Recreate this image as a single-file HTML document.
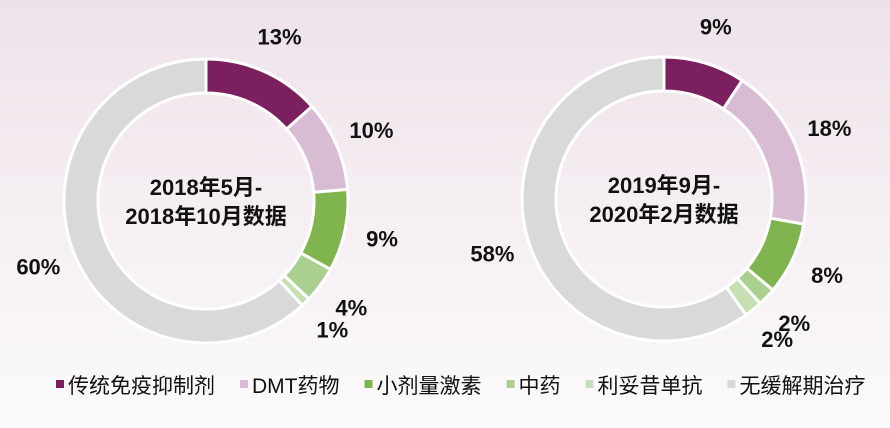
<!DOCTYPE html>
<html><head><meta charset="utf-8">
<style>
html,body{margin:0;padding:0;}
body{width:890px;height:428px;overflow:hidden;background:linear-gradient(180deg,#eee2ea 0%,#f6f0f4 55%,#fbfafb 100%);font-family:"Liberation Sans","Noto Sans CJK SC",sans-serif;}
svg{display:block}
</style></head><body>
<svg id="chart" width="890" height="428" xmlns="http://www.w3.org/2000/svg"></svg>
<script>
const categories = ["传统免疫抑制剂","DMT药物","小剂量激素","中药","利妥昔单抗","无缓解期治疗"];
const series1 = [13,10,9,4,1,60];
const series2 = [9,18,8,2,2,58];
const titles1 = ["2018年5月-","2018年10月数据"];
const titles2 = ["2019年9月-","2020年2月数据"];
const colors = ["#7b1f5e","#d8bcd3","#80b44e","#a9d08e","#c6e0b4","#d9d9d9"];
const NS="http://www.w3.org/2000/svg";
const svg=document.getElementById('chart');
function mk(tag,attrs){const e=document.createElementNS(NS,tag);for(const k in attrs)e.setAttribute(k,attrs[k]);return e;}
function pt(cx,cy,r,a){return [cx+r*Math.sin(a),cy-r*Math.cos(a)];}
function donut(vals,titles,cx,cy,ro,ri,idx){
  const g=mk('g',{});
  
  
  svg.appendChild(g);
  const total=vals.reduce((a,b)=>a+b,0);
  let a0=0;
  vals.forEach((v,i)=>{
    const a1=a0+v/total*2*Math.PI;
    const large=(a1-a0)>Math.PI?1:0;
    const [x0,y0]=pt(cx,cy,ro,a0),[x1,y1]=pt(cx,cy,ro,a1),[x2,y2]=pt(cx,cy,ri,a1),[x3,y3]=pt(cx,cy,ri,a0);
    const p=mk('path',{d:`M${x0},${y0}A${ro},${ro} 0 ${large} 1 ${x1},${y1}L${x2},${y2}A${ri},${ri} 0 ${large} 0 ${x3},${y3}Z`,fill:colors[i],stroke:'#ffffff','stroke-width':3});
    
    
    g.appendChild(p);
    const am=(a0+a1)/2;
    const [lx,ly]=pt(cx,cy,ro+38,am);
    const t=mk('text',{x:lx,y:ly+8,'text-anchor':'middle','font-size':22,'font-weight':'bold',fill:'#111'});
    t.textContent=v+'%';
    
    
    g.appendChild(t);
    a0=a1;
  });
  titles.forEach((s,j)=>{
    const t=mk('text',{x:cx,y:cy-6+j*29,'text-anchor':'middle','font-size':22,'font-weight':'bold',fill:'#111'});
    t.textContent=s;
    
    
    g.appendChild(t);
  });
}
donut(series1,titles1,206,201,142,108,1);
donut(series2,titles2,664,199,142,108,2);
const lg=mk('g',{});


svg.appendChild(lg);
let x=56;
categories.forEach((c,i)=>{
  const item=mk('g',{});
  
  
  lg.appendChild(item);
  item.appendChild(mk('rect',{x:x,y:380,width:8,height:8,fill:colors[i]}));
  const t=mk('text',{x:x+12,y:393,'font-size':21,fill:'#111'});
  t.textContent=c;
  item.appendChild(t);
  const w=t.getComputedTextLength();
  x+=12+w+25;
});
</script>
</body></html>
